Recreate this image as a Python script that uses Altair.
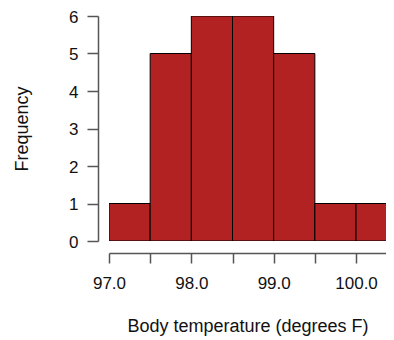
import altair as alt
import pandas as pd

bin_start = [97.0, 97.5, 98.0, 98.5, 99.0, 99.5, 100.0]
bin_end = [97.5, 98.0, 98.5, 99.0, 99.5, 100.0, 100.5]
counts = [1, 5, 6, 6, 5, 1, 1]
x_ticks = [97.0, 97.5, 98.0, 98.5, 99.0, 99.5, 100.0, 100.5]
y_ticks = [0, 1, 2, 3, 4, 5, 6]

df = pd.DataFrame({"start": bin_start, "end": bin_end, "count": counts})

FONT = "Liberation Sans"

chart = alt.Chart(df).mark_bar(
    color="#B22222", stroke="black", strokeWidth=1, clip=True
).encode(
    x=alt.X(
        "start:Q",
        scale=alt.Scale(domain=[97.0, 100.364], nice=False, zero=False),
        axis=alt.Axis(
            values=x_ticks,
            labelExpr="(datum.value % 1 == 0) ? format(datum.value, '.1f') : ''",
            title="Body temperature (degrees F)",
            offset=12,
            grid=False,
            tickSize=10,
            labelPadding=12,
            labelFlush=False,
            titlePadding=26,
        ),
    ),
    x2="end:Q",
    y=alt.Y(
        "count:Q",
        scale=alt.Scale(domain=[0, 6], nice=False),
        axis=alt.Axis(
            values=y_ticks,
            title="Frequency",
            offset=11,
            grid=False,
            tickSize=11,
            labelPadding=9,
            labelOffset=1,
            titlePadding=37,
        ),
    ),
    y2=alt.datum(0),
).properties(
    width=277,
    height=225,
    autosize=alt.AutoSizeParams(type="none"),
    padding={"left": 101, "top": 8, "right": 0, "bottom": 99},
).configure_view(
    stroke=None
).configure_axis(
    labelFont=FONT,
    titleFont=FONT,
    labelFontSize=17,
    titleFontSize=18,
    titleFontWeight="normal",
    labelColor="#111111",
    titleColor="#111111",
    domainColor="#555555",
    tickColor="#555555",
    domainWidth=1.5,
    tickWidth=1.5,
)

chart.save("out.html", embed_options={"renderer": "svg", "actions": False})
